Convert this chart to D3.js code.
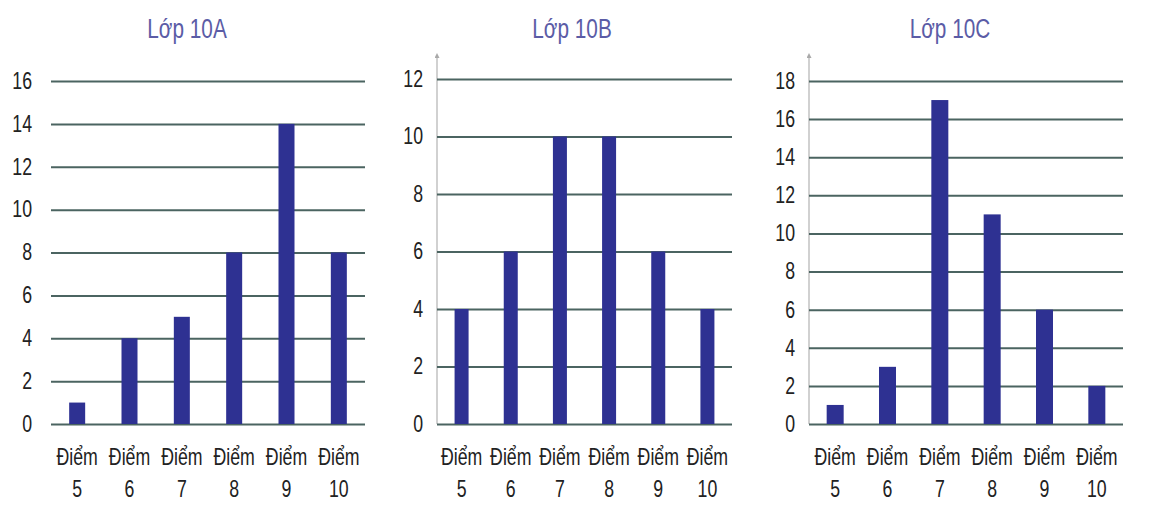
<!DOCTYPE html>
<html>
<head>
<meta charset="utf-8">
<script src="https://cdn.jsdelivr.net/npm/d3@7"></script>
<style>
  body { margin: 0; background: #fff; }
  svg text { font-family: "Liberation Sans", Arial, sans-serif; }
</style>
</head>
<body>
<svg id="chart" width="1154" height="512"></svg>
<script>
// data
var categories = ["5", "6", "7", "8", "9", "10"];
var titles = ["Lớp 10A", "Lớp 10B", "Lớp 10C"];
var valuesA = [1, 4, 5, 8, 14, 8];
var valuesB = [4, 6, 10, 10, 6, 4];
var valuesC = [1, 3, 17, 11, 6, 2];
var ticksA = [0, 2, 4, 6, 8, 10, 12, 14, 16];
var ticksB = [0, 2, 4, 6, 8, 10, 12];
var ticksC = [0, 2, 4, 6, 8, 10, 12, 14, 16, 18];

// layout of each panel
var panels = [
  { title: titles[0], values: valuesA, ticks: ticksA, x0: 51, x1: 365, top: 81, barW: 16, pad: 19, titleX: 187, arrow: false },
  { title: titles[1], values: valuesB, ticks: ticksB, x0: 437, x1: 732, top: 79, barW: 14, pad: 14, titleX: 572, arrow: true },
  { title: titles[2], values: valuesC, ticks: ticksC, x0: 809, x1: 1123, top: 81, barW: 17, pad: 14, titleX: 950, arrow: true }
];

var bottom = 424;
var squeeze = 0.77; // the book uses a condensed face, fake it with a horizontal scale
var svg = d3.select("#chart");

svg.append("defs").append("marker")
  .attr("id", "arrow")
  .attr("viewBox", "0 0 10 10")
  .attr("refX", 5).attr("refY", 10)
  .attr("markerWidth", 5).attr("markerHeight", 7)
  .attr("markerUnits", "userSpaceOnUse")
  .attr("orient", "0")
  .append("path")
  .attr("d", "M0,10 L5,0 L10,10 Z")
  .attr("fill", "#a9a9a9");

function narrowText(sel, x, y) {
  return sel.append("text")
    .attr("transform", "translate(" + x + "," + y + ") scale(" + squeeze + ",1)");
}

panels.forEach(function (p) {
  var g = svg.append("g");

  var x = d3.scalePoint().domain(categories).range([p.x0, p.x1]).padding(0.5);
  var y = d3.scaleLinear()
    .domain([0, d3.max(p.ticks)])
    .range([bottom, p.top]);

  // vertical axis with arrow (only on B and C)
  if (p.arrow) {
    g.append("line")
      .attr("x1", p.x0).attr("x2", p.x0)
      .attr("y1", bottom).attr("y2", 58)
      .attr("stroke", "#b3b3b3")
      .attr("stroke-width", 1.2)
      .attr("marker-end", "url(#arrow)");
  }

  // gridlines + tick labels
  var yAxis = d3.axisLeft(y)
    .tickValues(p.ticks)
    .tickSizeInner(-(p.x1 - p.x0))
    .tickSizeOuter(0)
    .tickPadding(p.pad);

  var ax = g.append("g")
    .attr("transform", "translate(" + p.x0 + ",0)")
    .call(yAxis);
  ax.select(".domain").remove();
  ax.selectAll(".tick line")
    .attr("stroke", "#4b6461")
    .attr("stroke-width", 2);
  ax.selectAll(".tick text")
    .attr("x", 0)
    .attr("transform", "translate(" + (-p.pad) + ",0) scale(" + squeeze + ",1)")
    .attr("fill", "#222")
    .style("font-size", "23px");

  // bars
  g.selectAll("rect.bar")
    .data(p.values)
    .enter()
    .append("rect")
    .attr("class", "bar")
    .attr("x", function (d, i) { return x(categories[i]) - p.barW / 2; })
    .attr("y", function (d) { return y(d); })
    .attr("width", p.barW)
    .attr("height", function (d) { return y(0) - y(d); })
    .attr("fill", "#2e3192");

  // category labels, two lines
  categories.forEach(function (c) {
    narrowText(g, x(c), 465)
      .attr("text-anchor", "middle")
      .attr("fill", "#222")
      .style("font-size", "23px")
      .text("Điểm");
    narrowText(g, x(c), 497)
      .attr("text-anchor", "middle")
      .attr("fill", "#222")
      .style("font-size", "23px")
      .text(c);
  });

  // title
  narrowText(g, p.titleX, 38)
    .attr("text-anchor", "middle")
    .attr("fill", "#5b5ca6")
    .style("font-size", "27px")
    .text(p.title);
});
</script>
</body>
</html>
